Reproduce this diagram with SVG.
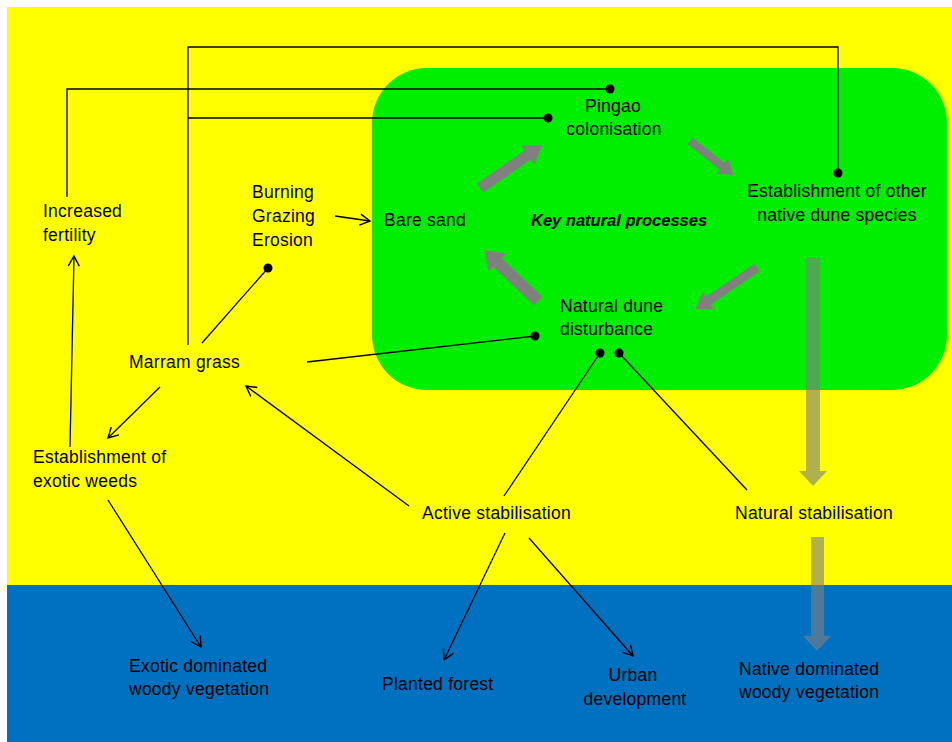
<svg xmlns="http://www.w3.org/2000/svg" width="952" height="742" viewBox="0 0 952 742">
<style>
text{font-family:"Liberation Sans",Arial,sans-serif;font-size:17.5px;letter-spacing:0.25px;fill:#000}
.k{font-weight:bold;font-style:italic;font-size:16.5px;letter-spacing:0}
.c{text-anchor:middle}
.ln{stroke:#000;stroke-width:1.3;fill:none}
.ar{marker-end:url(#ah)}
.dot{fill:#000}
.blk{fill:#808080}
.pale{fill:#808080;fill-opacity:0.62}
</style>
<defs>
<marker id="ah" markerUnits="userSpaceOnUse" markerWidth="14" markerHeight="14" viewBox="-12 -7 14 14" refX="0" refY="0" orient="auto">
<path d="M-10,-5.5 L0,0 L-10,5.5" fill="none" stroke="#000" stroke-width="1.4"/>
</marker>
</defs>
<rect x="0" y="0" width="952" height="742" fill="#fff"/>
<rect x="7" y="7" width="945" height="578" fill="#ffff00"/>
<rect x="7" y="585" width="945" height="157" fill="#0070c0"/>
<rect id="key-natural-processes-area" x="372" y="68" width="575" height="322" rx="55" ry="55" fill="#00ee00"/>

<g id="connectors">
<polyline class="ln" points="188,345 188,47 838,47 838,173"/>
<polyline class="ln" points="188,118 548,118"/>
<polyline class="ln" points="67,197 67,89 610,89"/>
<line class="ln ar" x1="335" y1="216" x2="370" y2="221"/>
<line class="ln" x1="202" y1="343" x2="268" y2="268"/>
<line class="ln" x1="307" y1="362" x2="535" y2="336"/>
<line class="ln ar" x1="160" y1="387" x2="108" y2="438"/>
<line class="ln ar" x1="409" y1="506" x2="246" y2="386"/>
<line class="ln ar" x1="70" y1="447" x2="74" y2="256"/>
<line class="ln" x1="504" y1="496" x2="600" y2="353"/>
<line class="ln" x1="747" y1="490" x2="619" y2="353"/>
<line class="ln ar" x1="505" y1="533" x2="444" y2="660"/>
<line class="ln ar" x1="529" y1="538" x2="633" y2="656"/>
<line class="ln ar" x1="108" y1="500" x2="201" y2="647"/>
<circle class="dot" cx="838" cy="173" r="4.5"/>
<circle class="dot" cx="548" cy="118" r="4.5"/>
<circle class="dot" cx="610" cy="89" r="4.5"/>
<circle class="dot" cx="268" cy="268" r="4.5"/>
<circle class="dot" cx="535" cy="336" r="4.5"/>
<circle class="dot" cx="600" cy="353" r="4.5"/>
<circle class="dot" cx="619" cy="353" r="4.5"/>
<polygon class="blk" transform="translate(480,188) rotate(-34.7)" points="0,-5.5 58,-5.5 58,-11.5 75.5,0 58,11.5 58,5.5 0,5.5"/>
<polygon class="blk" transform="translate(690,141) rotate(38.3)" points="0,-4 41,-4 41,-9.5 55,0 41,9.5 41,4 0,4"/>
<polygon class="blk" transform="translate(757,267.5) rotate(145.8)" points="0,-4.5 59,-4.5 59,-10.5 74,0 59,10.5 59,4.5 0,4.5"/>
<polygon class="blk" transform="translate(538,301) rotate(-136.6)" points="0,-6 56,-6 56,-12.5 74,0 56,12.5 56,6 0,6"/>
<polygon class="pale" points="806,258 820,258 820,471 827,471 813,486 799,471 806,471"/>
<polygon class="pale" points="811,537 824,537 824,636 831,636 817,651 803,636 811,636"/>
</g>

<g id="increased-fertility"><text x="43" y="217">Increased</text><text x="43" y="241">fertility</text></g>
<g id="burning-grazing-erosion"><text x="252" y="198">Burning</text><text x="252" y="222">Grazing</text><text x="252" y="246">Erosion</text></g>
<g id="marram-grass"><text x="129" y="368">Marram grass</text></g>
<g id="bare-sand"><text x="384" y="226">Bare sand</text></g>
<g id="key-label"><text class="k" x="531" y="226">Key natural processes</text></g>
<g id="pingao-colonisation"><text class="c" x="613" y="112">Pingao</text><text class="c" x="614" y="135">colonisation</text></g>
<g id="establishment-native"><text class="c" x="837" y="197">Establishment of other</text><text class="c" x="837" y="221">native dune species</text></g>
<g id="natural-dune-disturbance"><text x="560" y="312">Natural dune</text><text x="560" y="335">disturbance</text></g>
<g id="establishment-exotic"><text x="33" y="463">Establishment of</text><text x="33" y="487">exotic weeds</text></g>
<g id="active-stabilisation"><text x="422" y="519">Active stabilisation</text></g>
<g id="natural-stabilisation"><text x="735" y="519">Natural stabilisation</text></g>
<g id="exotic-dominated"><text x="129" y="672">Exotic dominated</text><text x="129" y="695">woody vegetation</text></g>
<g id="planted-forest"><text x="382" y="690">Planted forest</text></g>
<g id="urban-development"><text class="c" x="633" y="681">Urban</text><text class="c" x="635" y="705">development</text></g>
<g id="native-dominated"><text x="739" y="675">Native dominated</text><text x="739" y="698">woody vegetation</text></g>
</svg>
